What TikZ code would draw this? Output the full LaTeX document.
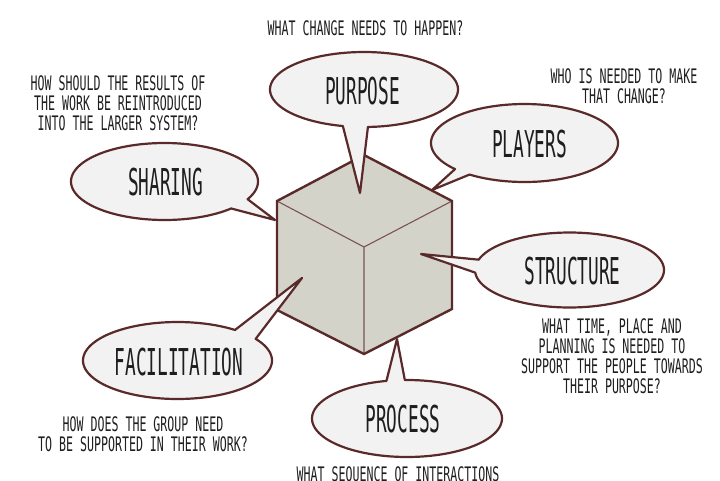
\documentclass[tikz,border=0pt]{standalone}
\usepackage{fontspec}
\newfontfamily\bigfont[FakeStretch=0.48]{DejaVu Sans Mono}
\newfontfamily\smallfont[FakeStretch=0.58]{DejaVu Sans Mono}
\definecolor{maroon}{HTML}{5A2A2A}
\definecolor{edgecol}{HTML}{7A5252}
\definecolor{cubefill}{HTML}{D4D3CA}
\definecolor{bubblefill}{HTML}{F2F2F2}
\definecolor{ink}{HTML}{1E1E1E}
\newcommand{\speechbubble}[7]{%
  \draw[bubble] plot[domain=#5:#6, samples=120] ({#1+#3*cos(\x)},{#2+#4*sin(\x)}) -- #7 -- cycle;}
\begin{document}
\begin{tikzpicture}[x=1pt,y=-1pt,
  bubble/.style={draw=maroon, fill=bubblefill, line width=2.2pt, line join=round},
  cube/.style={draw=maroon, fill=cubefill, line width=2.4pt, line join=miter},
  cubeedge/.style={draw=edgecol, line width=1.1pt},
  biglabel/.style={font={\bigfont\fontsize{37pt}{40pt}\selectfont}, text=ink, inner sep=0pt, text height=27pt, text depth=0pt, anchor=center},
  question/.style={font={\smallfont\fontsize{20pt}{20pt}\selectfont}, text=ink, inner sep=0pt, align=center, anchor=base}]
\useasboundingbox (0,0) rectangle (720,480);
\clip (0,0) rectangle (720,480);
% cube
\coordinate (T) at (364,155);
\coordinate (UR) at (452,201);
\coordinate (LR) at (452,309);
\coordinate (B) at (364,354);
\coordinate (LL) at (277,310);
\coordinate (UL) at (277,201);
\coordinate (C) at (364,247);
\fill[cubefill] (T)--(UR)--(LR)--(B)--(LL)--(UL)--cycle;
\draw[cubeedge] (UL)--(C)--(UR) (C)--(B);
\draw[cube, fill=none] (T)--(UR)--(LR)--(B)--(LL)--(UL)--cycle;
% bubbles
\coordinate (tipPurpose) at (360,193);
\coordinate (tipPlayers) at (432,190);
\coordinate (tipSharing) at (275,220);
\coordinate (tipStructure) at (421,254);
\coordinate (tipFacilitation) at (302,278);
\coordinate (tipProcess) at (397,339);
\speechbubble{364}{89.5}{94}{37.5}{103}{447.6}{(tipPurpose)}
\speechbubble{524.5}{143}{93.5}{39}{138}{486}{(tipPlayers)}
\speechbubble{164.5}{181.5}{93.5}{38.5}{44.5}{387.3}{(tipSharing)}
\speechbubble{569.5}{270}{94.5}{37.5}{196}{536}{(tipStructure)}
\speechbubble{177.5}{360.5}{94.5}{38.5}{325.8}{667.5}{(tipFacilitation)}
\speechbubble{407}{418.5}{95}{38.5}{268.7}{617.5}{(tipProcess)}
% labels
\node[biglabel] (purpose) at (362.5,90.5) {PURPOSE};
\node[biglabel] (players) at (529.5,143.5) {PLAYERS};
\node[biglabel] (sharing) at (165.5,181.5) {SHARING};
\node[biglabel] (structure) at (572.5,271) {STRUCTURE};
\node[biglabel] (facilitation) at (179,361.5) {FACILITATION};
\node[biglabel] (process) at (403,418.5) {PROCESS};
% questions (anchor = baseline of the last line)
\node[question] (qpurpose) at (365.5,35.7) {WHAT CHANGE NEEDS TO HAPPEN?};
\node[question] (qsharing) at (118,130.5) {HOW SHOULD THE RESULTS OF\\THE WORK BE REINTRODUCED\\INTO THE LARGER SYSTEM?};
\node[question] (qplayers) at (624,103) {WHO IS NEEDED TO MAKE\\THAT CHANGE?};
\node[question] (qfacilitation) at (143,451) {HOW DOES THE GROUP NEED\\TO BE SUPPORTED IN THEIR WORK?};
\node[question] (qstructure) at (612,393.5) {WHAT TIME, PLACE AND\\PLANNING IS NEEDED TO\\SUPPORT THE PEOPLE TOWARDS\\THEIR PURPOSE?};
\node[question] (qprocess) at (398,481) {WHAT SEQUENCE OF INTERACTIONS};
\end{tikzpicture}
\end{document}
